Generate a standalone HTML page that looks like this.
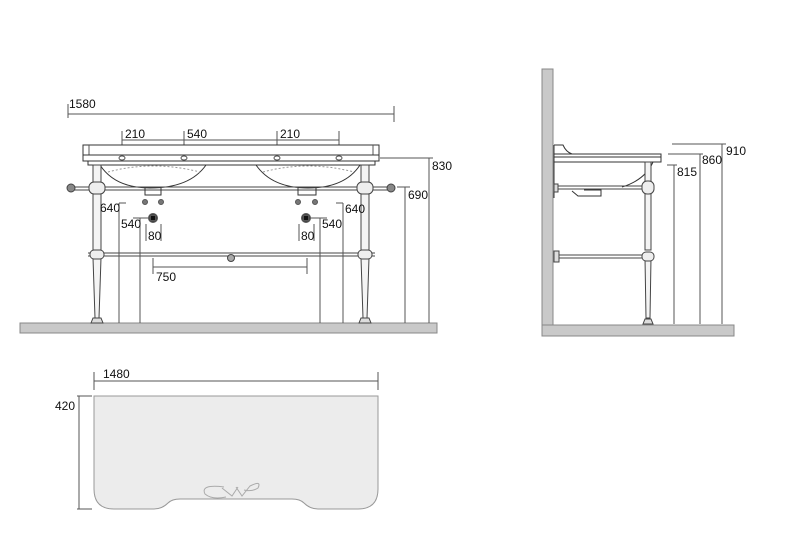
<!DOCTYPE html>
<html><head><meta charset="utf-8"><style>
html,body{margin:0;padding:0;background:#fff;}
svg{display:block;}
text{font-family:"Liberation Sans",sans-serif;font-size:12px;fill:#111;}
</style></head><body>
<svg width="800" height="548" viewBox="0 0 800 548" xmlns="http://www.w3.org/2000/svg">
<g stroke="#555" stroke-width="1" fill="none">
<rect x="20" y="323" width="417" height="10" fill="#c9c9c9" stroke="#888"/>
<line x1="68" y1="104" x2="68" y2="118"/><line x1="68" y1="114" x2="394" y2="114"/><line x1="394" y1="106" x2="394" y2="122"/>
<line x1="122" y1="140" x2="339" y2="140"/>
<line x1="122" y1="131" x2="122" y2="150"/><line x1="184" y1="131" x2="184" y2="150"/>
<line x1="277" y1="131" x2="277" y2="150"/><line x1="339" y1="131" x2="339" y2="150"/>
<rect x="83" y="145" width="296" height="10" fill="#fff" stroke="#333"/>
<line x1="89" y1="145" x2="89" y2="155"/><line x1="373" y1="145" x2="373" y2="155"/>
<rect x="83" y="155" width="296" height="6" fill="#fff" stroke="#333"/>
<rect x="88" y="161" width="287" height="4" fill="#fff" stroke="#333"/>
<ellipse cx="122" cy="158" rx="3" ry="2"/><ellipse cx="184" cy="158" rx="3" ry="2"/>
<ellipse cx="277" cy="158" rx="3" ry="2"/><ellipse cx="339" cy="158" rx="3" ry="2"/>
<path d="M100 165 Q115 188 150 188 Q190 188 206 165" stroke="#333"/>
<path d="M108 172 Q153 160 200 172" stroke="#999" stroke-dasharray="2,2"/>
<path d="M256 165 Q272 188 308 188 Q345 188 360 165" stroke="#333"/>
<path d="M263 172 Q308 160 354 172" stroke="#999" stroke-dasharray="2,2"/>
<rect x="93" y="165" width="8" height="85" fill="#f4f4f4" stroke="#444"/>
<rect x="361" y="165" width="8" height="85" fill="#f4f4f4" stroke="#444"/>
<path d="M93 258 L95 318 L99 318 L101 258" fill="#f4f4f4" stroke="#444"/>
<path d="M361 258 L363 318 L367 318 L369 258" fill="#f4f4f4" stroke="#444"/>
<path d="M91 323 L93 318 L101 318 L103 323Z" fill="#ddd" stroke="#444"/>
<path d="M359 323 L361 318 L369 318 L371 323Z" fill="#ddd" stroke="#444"/>
<line x1="70" y1="187" x2="392" y2="187" stroke="#444"/><line x1="70" y1="190" x2="392" y2="190" stroke="#444"/>
<circle cx="71" cy="188" r="4" fill="#888" stroke="#444"/><circle cx="391" cy="188" r="4" fill="#888" stroke="#444"/>
<rect x="89" y="182" width="16" height="12" rx="5" fill="#eee" stroke="#444"/>
<rect x="357" y="182" width="16" height="12" rx="5" fill="#eee" stroke="#444"/>
<line x1="88" y1="253" x2="375" y2="253" stroke="#444"/><line x1="88" y1="256" x2="375" y2="256" stroke="#444"/>
<rect x="90" y="250" width="14" height="9" rx="4" fill="#eee" stroke="#444"/>
<rect x="358" y="250" width="14" height="9" rx="4" fill="#eee" stroke="#444"/>
<circle cx="231" cy="258" r="3.5" fill="#aaa" stroke="#444"/>
<path d="M145 188 V195 H161 V188" stroke="#333"/>
<path d="M298 188 V195 H316 V188" stroke="#333"/>
<circle cx="145" cy="202" r="2.5" fill="#777"/><circle cx="161" cy="202" r="2.5" fill="#777"/>
<circle cx="298" cy="202" r="2.5" fill="#777"/><circle cx="315" cy="202" r="2.5" fill="#777"/>
<circle cx="153" cy="218" r="4.5" fill="#444"/><rect x="150.5" y="215.5" width="5" height="5" fill="#111"/>
<circle cx="306" cy="218" r="4.5" fill="#444"/><rect x="303.5" y="215.5" width="5" height="5" fill="#111"/>
<line x1="146" y1="224" x2="146" y2="241"/><line x1="161" y1="224" x2="161" y2="241"/>
<line x1="299" y1="224" x2="299" y2="241"/><line x1="314" y1="224" x2="314" y2="241"/>
<line x1="119" y1="203" x2="119" y2="323"/><line x1="119" y1="203" x2="126" y2="203"/>
<line x1="140" y1="218" x2="140" y2="323"/><line x1="133" y1="218" x2="150" y2="218"/>
<line x1="343" y1="203" x2="343" y2="323"/><line x1="336" y1="203" x2="343" y2="203"/>
<line x1="320" y1="218" x2="320" y2="323"/><line x1="310" y1="218" x2="327" y2="218"/>
<line x1="153" y1="258" x2="153" y2="274"/><line x1="153" y1="267" x2="307" y2="267"/><line x1="307" y1="258" x2="307" y2="274"/>
<line x1="380" y1="158" x2="433" y2="158"/><line x1="429" y1="158" x2="429" y2="323"/>
<line x1="397" y1="187" x2="410" y2="187"/><line x1="405" y1="187" x2="405" y2="323"/>

<rect x="542" y="325" width="192" height="11" fill="#c9c9c9" stroke="#888"/>
<rect x="542" y="69" width="11" height="256" fill="#c9c9c9" stroke="#888"/>
<path d="M554 145 L563 145 Q566 152 572 154" stroke="#333"/>
<line x1="554" y1="145" x2="554" y2="198" stroke="#333"/>
<rect x="554" y="154" width="107" height="8" fill="#fff" stroke="#333"/>
<line x1="554" y1="157" x2="661" y2="157" stroke="#333"/>
<path d="M653 162 Q645 180 622 187" stroke="#333"/>
<rect x="645" y="162" width="6" height="88" fill="#f4f4f4" stroke="#444"/>
<path d="M645 258 L646 318 L650 318 L651 258" fill="#f4f4f4" stroke="#444"/>
<path d="M643 324 L645 319 L651 319 L653 324Z" fill="#ddd" stroke="#444"/>
<line x1="555" y1="186" x2="645" y2="186" stroke="#444"/><line x1="555" y1="189" x2="645" y2="189" stroke="#444"/>
<rect x="642" y="181" width="12" height="13" rx="5" fill="#eee" stroke="#444"/>
<rect x="554" y="184" width="4" height="8" fill="#ddd" stroke="#444"/>
<path d="M572 191 L578 196 H601 V190 H584" stroke="#333"/>
<line x1="556" y1="255" x2="645" y2="255" stroke="#444"/><line x1="556" y1="258" x2="645" y2="258" stroke="#444"/>
<rect x="642" y="252" width="12" height="9" rx="4" fill="#eee" stroke="#444"/>
<rect x="554" y="251" width="5" height="11" fill="#ddd" stroke="#444"/>
<line x1="672" y1="144" x2="726" y2="144"/><line x1="722" y1="144" x2="722" y2="324"/>
<line x1="668" y1="154" x2="703" y2="154"/><line x1="700" y1="154" x2="700" y2="324"/>
<line x1="667" y1="165" x2="677" y2="165"/><line x1="674" y1="165" x2="674" y2="324"/>

<line x1="94" y1="372" x2="94" y2="390"/><line x1="94" y1="381" x2="378" y2="381"/><line x1="378" y1="372" x2="378" y2="390"/>
<line x1="77" y1="396" x2="92" y2="396"/><line x1="79" y1="396" x2="79" y2="509"/><line x1="77" y1="509" x2="92" y2="509"/>
<path d="M94 396 H378 V489 Q378 509 358 509 H318 Q310 509 304 503 Q300 499 292 499 H180 Q172 499 168 503 Q162 509 154 509 H114 Q94 509 94 489 Z" fill="#ececec" stroke="#999"/>
<path d="M224 487 Q200 484 205 494 Q212 500 226 497 M222 488 L232 496 L238 487 M236 487 L242 496 L250 486 Q262 480 258 488 Q252 492 244 490" stroke="#aaa"/>
</g>
<g>
<text x="69" y="108">1580</text>
<text x="125" y="138">210</text>
<text x="187" y="138">540</text>
<text x="280" y="138">210</text>
<text x="432" y="170">830</text>
<text x="408" y="199">690</text>
<text x="100" y="212">640</text>
<text x="345" y="213">640</text>
<text x="121" y="228">540</text>
<text x="322" y="228">540</text>
<text x="148" y="240">80</text>
<text x="301" y="240">80</text>
<text x="156" y="281">750</text>
<text x="726" y="155">910</text>
<text x="702" y="164">860</text>
<text x="677" y="176">815</text>
<text x="103" y="378">1480</text>
<text x="55" y="410">420</text>
</g>
</svg>
</body></html>
